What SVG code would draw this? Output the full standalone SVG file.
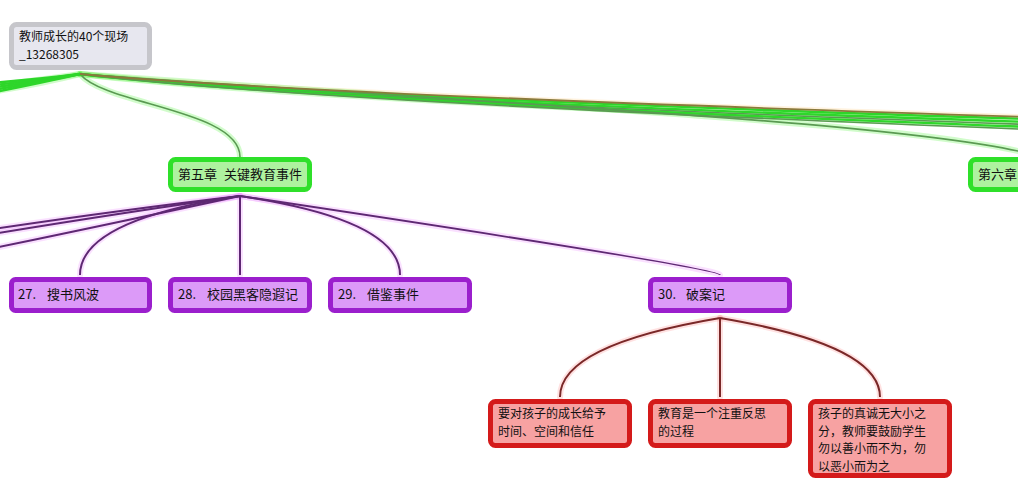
<svg xmlns="http://www.w3.org/2000/svg" width="1018" height="487" viewBox="0 0 1018 487">
<style>
.t{font-family:"Noto Sans CJK SC","Liberation Sans",sans-serif;font-size:13px;fill:#111}
.m{font-size:12px}
.glow{fill:none;stroke-linecap:round;opacity:0.35}
.gg{stroke:#7cf56a;stroke-width:6}
.pg{stroke:#f2a6ff;stroke-width:6}
.rg{stroke:#ffaaaa;stroke-width:6}
.og{stroke:#ffd9a0;stroke-width:5}
.gl{fill:none;stroke:#2ed62a;stroke-width:2.4}
.gd{fill:none;stroke:#5a9a52;stroke-width:1.6}
.bl{fill:none;stroke:#8a7a3c;stroke-width:1.8}
.pl{fill:none;stroke:#5e2873;stroke-width:2}
.rl{fill:none;stroke:#7a2828;stroke-width:2}
.root{fill:#e7e7ef;stroke:#c6c6cb;stroke-width:5}
.green{fill:#aef29f;stroke:#2fe02a;stroke-width:5}
.purple{fill:#dc9af8;stroke:#9b1fcd;stroke-width:5}
.red{fill:#f7a2a2;stroke:#d41a1a;stroke-width:5}
</style>
<g id="connectors">
  <path class="glow gg" d="M80,74 Q40,80 -10,86"/>
  <path class="glow gg" d="M80,74 Q40,84 -10,92"/>
  <path class="glow gg" d="M80,74 C105,105 240,110 240,157"/>
  <path class="glow og" d="M80,74 Q300,94 1030,117"/>
  <path class="glow gg" d="M80,74 Q300,98 1030,122"/>
  <path class="glow gg" d="M80,74 Q300,100 1030,127"/>
  <path class="glow gg" d="M80,74 C500,105 1000,125 1060,165"/>
  <path class="glow pg" d="M240,196 Q120,210 -20,231"/>
  <path class="glow pg" d="M240,196 Q120,213 -20,236"/>
  <path class="glow pg" d="M240,196 Q120,222 -20,251"/>
  <path class="glow pg" d="M240,196 Q80,220 80,275"/>
  <path class="glow pg" d="M240,196 L240,275"/>
  <path class="glow pg" d="M240,196 Q400,220 400,275"/>
  <path class="glow pg" d="M240,196 Q720,268 720,275"/>
  <path class="glow rg" d="M720,318 Q560,345 560,397"/>
  <path class="glow rg" d="M720,318 L720,397"/>
  <path class="glow rg" d="M720,318 Q880,345 880,397"/>
  <path class="gl" d="M80,74 Q40,79 -10,83"/>
  <path class="gl" d="M80,74 Q40,80 -10,85.5"/>
  <path class="gl" d="M80,74 Q40,81 -10,88"/>
  <path class="gl" d="M80,74 Q40,82 -10,90.5"/>
  <path class="gl" d="M80,74 Q40,83 -10,93"/>
  <path class="gd" d="M80,74 C105,105 240,110 240,157"/>
  <path class="gl" d="M80,74 Q300,96 1030,119"/>
  <path class="gl" d="M80,74 Q300,98 1030,122"/>
  <path class="gd" d="M80,74 Q300,99 1030,124.5"/>
  <path class="gl" d="M80,74 Q300,100 1030,127"/>
  <path class="gd" d="M80,74 Q300,101 1030,129.5"/>
  <path class="gd" d="M80,74 C500,105 1000,125 1060,165"/>
  <path class="bl" d="M80,74 Q300,94 1030,117"/>
  <path class="pl" d="M240,196 Q120,210 -20,231"/>
  <path class="pl" d="M240,196 Q120,213 -20,236"/>
  <path class="pl" d="M240,196 Q120,222 -20,251"/>
  <path class="pl" d="M240,196 Q80,220 80,275"/>
  <path class="pl" d="M240,196 L240,275"/>
  <path class="pl" d="M240,196 Q400,220 400,275"/>
  <path class="pl" d="M240,196 Q720,268 720,275"/>
  <path class="rl" d="M720,318 Q560,345 560,397"/>
  <path class="rl" d="M720,318 L720,397"/>
  <path class="rl" d="M720,318 Q880,345 880,397"/>
</g>
<g id="root">
  <rect class="root" x="11.5" y="24.5" width="138" height="43" rx="5"/>
  <text class="t m" x="19" y="41">教师成长的40个现场<tspan x="19" dy="17.5">_13268305</tspan></text>
</g>
<g id="ch5">
  <rect class="green" x="170.5" y="159.5" width="139" height="30" rx="5"/>
  <text class="t" x="178" y="179">第五章<tspan x="224">关键教育事件</tspan></text>
</g>
<g id="ch6">
  <rect class="green" x="970.5" y="159.5" width="139" height="30" rx="5"/>
  <text class="t" x="978" y="179">第六章</text>
</g>
<g id="n27">
  <rect class="purple" x="11.5" y="279.5" width="138" height="31" rx="4"/>
  <text class="t" x="18" y="299">27.<tspan x="47">搜书风波</tspan></text>
</g>
<g id="n28">
  <rect class="purple" x="170.5" y="279.5" width="139" height="31" rx="4"/>
  <text class="t" x="178" y="299">28.<tspan x="207">校园黑客隐遐记</tspan></text>
</g>
<g id="n29">
  <rect class="purple" x="330.5" y="279.5" width="139" height="31" rx="4"/>
  <text class="t" x="338" y="299">29.<tspan x="367">借鉴事件</tspan></text>
</g>
<g id="n30">
  <rect class="purple" x="650.5" y="279.5" width="139" height="31" rx="4"/>
  <text class="t" x="658" y="299">30.<tspan x="686">破案记</tspan></text>
</g>
<g id="r1">
  <rect class="red" x="490.5" y="401.5" width="139" height="44" rx="5"/>
  <text class="t m" x="498" y="418">要对孩子的成长给予<tspan x="498" dy="17.5">时间、空间和信任</tspan></text>
</g>
<g id="r2">
  <rect class="red" x="650.5" y="401.5" width="139" height="44" rx="5"/>
  <text class="t m" x="658" y="418">教育是一个注重反思<tspan x="658" dy="17.5">的过程</tspan></text>
</g>
<g id="r3">
  <rect class="red" x="810.5" y="401.5" width="139" height="74" rx="5"/>
  <text class="t m" x="818" y="418">孩子的真诚无大小之<tspan x="818" dy="17.5">分，教师要鼓励学生</tspan><tspan x="818" dy="17.5">勿以善小而不为，勿</tspan><tspan x="818" dy="17.5">以恶小而为之</tspan></text>
</g>
</svg>
